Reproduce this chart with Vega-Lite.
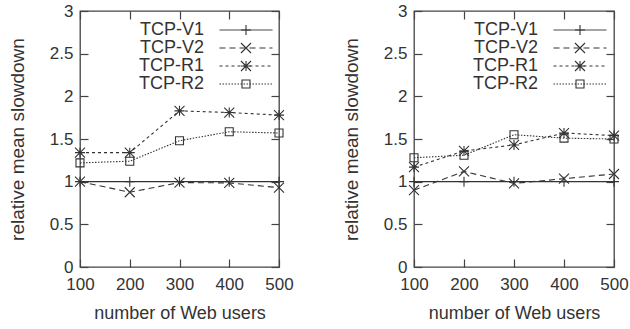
{
  "$schema": "https://vega.github.io/schema/vega-lite/v6.json",
  "autosize": {"type": "pad"},
  "padding": {"left": 7, "top": 1, "right": 5, "bottom": 5},
  "bounds": "flush",
  "spacing": 135,
  "background": "white",
  "config": {
    "view": {"stroke": "#444", "strokeWidth": 1.3},
    "font": "Liberation Sans",
    "axis": {
      "labelFont": "Liberation Sans", "labelFontSize": 17, "labelColor": "#333",
      "titleFont": "Liberation Sans", "titleFontSize": 18, "titleFontWeight": "normal", "titleColor": "#333",
      "tickColor": "#444", "tickSize": -8, "tickWidth": 1.2, "domain": false, "grid": false
    },
    "legend": {
      "labelFont": "Liberation Sans", "labelFontSize": 18, "labelColor": "#333"
    }
  },
  "datasets": {
    "d": [
      {"panel": "a", "users": 100, "protocol": "TCP-V1", "value": 1.0},
      {"panel": "a", "users": 200, "protocol": "TCP-V1", "value": 1.0},
      {"panel": "a", "users": 300, "protocol": "TCP-V1", "value": 1.0},
      {"panel": "a", "users": 400, "protocol": "TCP-V1", "value": 1.0},
      {"panel": "a", "users": 500, "protocol": "TCP-V1", "value": 1.0},
      {"panel": "a", "users": 100, "protocol": "TCP-V2", "value": 1.0},
      {"panel": "a", "users": 200, "protocol": "TCP-V2", "value": 0.876},
      {"panel": "a", "users": 300, "protocol": "TCP-V2", "value": 0.99},
      {"panel": "a", "users": 400, "protocol": "TCP-V2", "value": 0.985},
      {"panel": "a", "users": 500, "protocol": "TCP-V2", "value": 0.93},
      {"panel": "a", "users": 100, "protocol": "TCP-R1", "value": 1.34},
      {"panel": "a", "users": 200, "protocol": "TCP-R1", "value": 1.34},
      {"panel": "a", "users": 300, "protocol": "TCP-R1", "value": 1.83},
      {"panel": "a", "users": 400, "protocol": "TCP-R1", "value": 1.81},
      {"panel": "a", "users": 500, "protocol": "TCP-R1", "value": 1.78},
      {"panel": "a", "users": 100, "protocol": "TCP-R2", "value": 1.22},
      {"panel": "a", "users": 200, "protocol": "TCP-R2", "value": 1.24},
      {"panel": "a", "users": 300, "protocol": "TCP-R2", "value": 1.48},
      {"panel": "a", "users": 400, "protocol": "TCP-R2", "value": 1.585},
      {"panel": "a", "users": 500, "protocol": "TCP-R2", "value": 1.57},
      {"panel": "b", "users": 100, "protocol": "TCP-V1", "value": 1.0},
      {"panel": "b", "users": 200, "protocol": "TCP-V1", "value": 1.0},
      {"panel": "b", "users": 300, "protocol": "TCP-V1", "value": 1.0},
      {"panel": "b", "users": 400, "protocol": "TCP-V1", "value": 1.0},
      {"panel": "b", "users": 500, "protocol": "TCP-V1", "value": 1.0},
      {"panel": "b", "users": 100, "protocol": "TCP-V2", "value": 0.9},
      {"panel": "b", "users": 200, "protocol": "TCP-V2", "value": 1.12},
      {"panel": "b", "users": 300, "protocol": "TCP-V2", "value": 0.98},
      {"panel": "b", "users": 400, "protocol": "TCP-V2", "value": 1.035},
      {"panel": "b", "users": 500, "protocol": "TCP-V2", "value": 1.09},
      {"panel": "b", "users": 100, "protocol": "TCP-R1", "value": 1.17},
      {"panel": "b", "users": 200, "protocol": "TCP-R1", "value": 1.36},
      {"panel": "b", "users": 300, "protocol": "TCP-R1", "value": 1.43},
      {"panel": "b", "users": 400, "protocol": "TCP-R1", "value": 1.57},
      {"panel": "b", "users": 500, "protocol": "TCP-R1", "value": 1.54},
      {"panel": "b", "users": 100, "protocol": "TCP-R2", "value": 1.28},
      {"panel": "b", "users": 200, "protocol": "TCP-R2", "value": 1.31},
      {"panel": "b", "users": 300, "protocol": "TCP-R2", "value": 1.55},
      {"panel": "b", "users": 400, "protocol": "TCP-R2", "value": 1.51},
      {"panel": "b", "users": 500, "protocol": "TCP-R2", "value": 1.5}
    ]
  },
  "resolve": {"scale": {"strokeDash": "independent", "shape": "independent"}, "legend": {"strokeDash": "independent", "shape": "independent"}},
  "hconcat": [
    {
      "width": 199, "height": 256,
      "data": {"name": "d"},
      "transform": [{"filter": "datum.panel == 'a'"}],
      "layer": [
        {
          "mark": {"type": "line", "strokeWidth": 1.1, "color": "#333"},
          "encoding": {
            "x": {"field": "users", "type": "quantitative", "scale": {"domain": [100, 500], "nice": false},
                  "axis": {"orient": "bottom", "values": [100, 200, 300, 400, 500], "format": "d", "title": "number of Web users", "labelPadding": 17, "titlePadding": 12, "labelFlush": false}},
            "y": {"field": "value", "type": "quantitative", "scale": {"domain": [0, 3], "nice": false},
                  "axis": {"orient": "left", "values": [0, 0.5, 1, 1.5, 2, 2.5, 3], "format": "~g", "title": "relative mean slowdown", "titleFontSize": 19, "labelPadding": 15, "titlePadding": 22, "labelFlush": false}},
            "strokeDash": {"field": "protocol", "type": "nominal",
              "scale": {"domain": ["TCP-V1", "TCP-V2", "TCP-R1", "TCP-R2"], "range": [[1, 0], [6, 4], [3, 3], [1.5, 1.5]]},
              "legend": {"title": null, "orient": "none", "legendX": 157, "legendY": 10, "padding": 0,
                "symbolSize": 100, "symbolStrokeWidth": 1, "symbolStrokeColor": "#333",
                "labelAlign": "right", "labelOffset": -51, "rowPadding": 0,
                "symbolType": "M-5.3,0H5.3"}
            }
          }
        },
        {
          "mark": {"type": "point", "filled": false, "strokeWidth": 1.1, "color": "#333", "size": 100, "opacity": 1},
          "encoding": {
            "x": {"field": "users", "type": "quantitative", "scale": {"domain": [100, 500], "nice": false},
                  "axis": {"orient": "top", "values": [100, 200, 300, 400, 500], "labels": false, "title": null}},
            "y": {"field": "value", "type": "quantitative", "scale": {"domain": [0, 3], "nice": false},
                  "axis": {"orient": "right", "values": [0, 0.5, 1, 1.5, 2, 2.5, 3], "labels": false, "title": null}},
            "shape": {"field": "protocol", "type": "nominal",
              "scale": {"domain": ["TCP-R2", "TCP-R1", "TCP-V2", "TCP-V1"], "range": ["M-0.8,-0.8H0.8V0.8H-0.8Z", "M-1,0H1M0,-1V1M-1,-1L1,1M-1,1L1,-1", "M-1,-1L1,1M-1,1L1,-1", "M-1,0H1M0,-1V1"]},
              "legend": {"title": null, "orient": "none", "legendX": 157, "legendY": 10, "padding": 0,
                "values": ["TCP-V1", "TCP-V2", "TCP-R1", "TCP-R2"],
                "symbolSize": 100, "symbolStrokeWidth": 1.1, "symbolStrokeColor": "#333",
                "labelAlign": "right", "labelOffset": -51, "labelOpacity": 0, "rowPadding": 0}}
          }
        }
      ],
      "resolve": {"axis": {"x": "independent", "y": "independent"}}
    },
    {
      "width": 200, "height": 256,
      "data": {"name": "d"},
      "transform": [{"filter": "datum.panel == 'b'"}],
      "layer": [
        {
          "mark": {"type": "line", "strokeWidth": 1.1, "color": "#333"},
          "encoding": {
            "x": {"field": "users", "type": "quantitative", "scale": {"domain": [100, 500], "nice": false},
                  "axis": {"orient": "bottom", "values": [100, 200, 300, 400, 500], "format": "d", "title": "number of Web users", "labelPadding": 17, "titlePadding": 12, "labelFlush": false}},
            "y": {"field": "value", "type": "quantitative", "scale": {"domain": [0, 3], "nice": false},
                  "axis": {"orient": "left", "values": [0, 0.5, 1, 1.5, 2, 2.5, 3], "format": "~g", "title": "relative mean slowdown", "titleFontSize": 19, "labelPadding": 15, "titlePadding": 22, "labelFlush": false}},
            "strokeDash": {"field": "protocol", "type": "nominal",
              "scale": {"domain": ["TCP-V1", "TCP-V2", "TCP-R1", "TCP-R2"], "range": [[1, 0], [6, 4], [3, 3], [1.5, 1.5]]},
              "legend": {"title": null, "orient": "none", "legendX": 157, "legendY": 10, "padding": 0,
                "symbolSize": 100, "symbolStrokeWidth": 1, "symbolStrokeColor": "#333",
                "labelAlign": "right", "labelOffset": -51, "rowPadding": 0,
                "symbolType": "M-5.3,0H5.3"}
            }
          }
        },
        {
          "mark": {"type": "point", "filled": false, "strokeWidth": 1.1, "color": "#333", "size": 100, "opacity": 1},
          "encoding": {
            "x": {"field": "users", "type": "quantitative", "scale": {"domain": [100, 500], "nice": false},
                  "axis": {"orient": "top", "values": [100, 200, 300, 400, 500], "labels": false, "title": null}},
            "y": {"field": "value", "type": "quantitative", "scale": {"domain": [0, 3], "nice": false},
                  "axis": {"orient": "right", "values": [0, 0.5, 1, 1.5, 2, 2.5, 3], "labels": false, "title": null}},
            "shape": {"field": "protocol", "type": "nominal",
              "scale": {"domain": ["TCP-R2", "TCP-R1", "TCP-V2", "TCP-V1"], "range": ["M-0.8,-0.8H0.8V0.8H-0.8Z", "M-1,0H1M0,-1V1M-1,-1L1,1M-1,1L1,-1", "M-1,-1L1,1M-1,1L1,-1", "M-1,0H1M0,-1V1"]},
              "legend": {"title": null, "orient": "none", "legendX": 157, "legendY": 10, "padding": 0,
                "values": ["TCP-V1", "TCP-V2", "TCP-R1", "TCP-R2"],
                "symbolSize": 100, "symbolStrokeWidth": 1.1, "symbolStrokeColor": "#333",
                "labelAlign": "right", "labelOffset": -51, "labelOpacity": 0, "rowPadding": 0}}
          }
        }
      ],
      "resolve": {"axis": {"x": "independent", "y": "independent"}}
    }
  ]
}
